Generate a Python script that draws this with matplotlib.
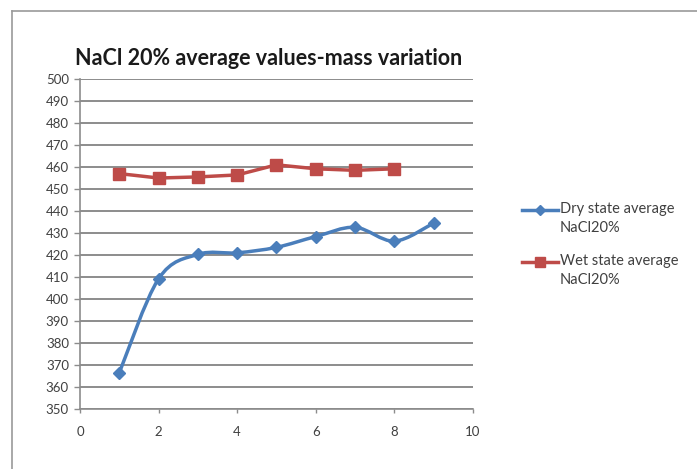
import numpy as np
import matplotlib
matplotlib.use("Agg")
import matplotlib.pyplot as plt
from matplotlib.path import Path
from matplotlib.patches import PathPatch
from matplotlib.lines import Line2D

plt.rcParams['font.family'] = ['Lato', 'DejaVu Sans']

# data
x_dry = [1, 2, 3, 4, 5, 6, 7, 8, 9]
dry = [366.5, 409.2, 420.3, 421.0, 423.5, 428.4, 432.6, 426.3, 434.5]
x_wet = [1, 2, 3, 4, 5, 6, 7, 8]
wet = [457.0, 455.0, 455.5, 456.4, 461.0, 459.2, 458.5, 459.2]
names = ["Dry state average\nNaCl20%", "Wet state average\nNaCl20%"]
title = "NaCl 20% average values-mass variation"

BLUE = "#4a7ebb"
RED = "#be4b48"


def smooth_path(xs, ys, t=1 / 6):
    # excel-like smoothed line as cubic bezier through the points
    xs, ys = np.asarray(xs, float), np.asarray(ys, float)
    pts = np.column_stack([xs, ys])
    verts = [pts[0]]
    codes = [Path.MOVETO]
    n = len(pts)
    for i in range(n - 1):
        p0 = pts[i - 1] if i > 0 else pts[i]
        p1, p2 = pts[i], pts[i + 1]
        p3 = pts[i + 2] if i + 2 < n else pts[i + 1]
        c1 = p1 + (p2 - p0) * t
        c2 = p2 - (p3 - p1) * t
        verts += [c1, c2, p2]
        codes += [Path.CURVE4] * 3
    return Path(verts, codes)


fig = plt.figure(figsize=(6.97, 4.69), dpi=100)
ax = fig.add_axes([0.1148, 0.1279, 0.5638, 0.7036])

ax.set_xlim(0, 10)
ax.set_ylim(350, 500)
ax.set_xticks(range(0, 11, 2))
ax.set_yticks(range(350, 501, 10))
ax.grid(axis='y', color='#8c8c8c', linewidth=1.4)
ax.set_axisbelow(True)
for s in ['top', 'right']:
    ax.spines[s].set_visible(False)
for s in ['left', 'bottom']:
    ax.spines[s].set_color('#8c8c8c')
    ax.spines[s].set_linewidth(1.2)
ax.tick_params(axis='both', colors='#8c8c8c', labelcolor='#404040', labelsize=9.5, length=4, width=1)
ax.tick_params(axis='x', pad=9, length=3)
ax.tick_params(axis='y', pad=4)

ax.add_patch(PathPatch(smooth_path(x_dry, dry), facecolor='none', edgecolor=BLUE, linewidth=2.5, zorder=3))
ax.plot(x_dry, dry, linestyle='none', marker='D', markersize=6, color=BLUE, zorder=4)
ax.plot(x_wet, wet, color=RED, linewidth=2.5, marker='s', markersize=8, zorder=4)

fig.text(0.385, 0.876, title, ha='center', va='center', fontsize=15.5, fontweight='bold', color='#1a1a1a')

# legend, drawn by hand so the handle sits on the first text line
W, H = 697, 469
leg = [(BLUE, 'D', 5, 210), (RED, 's', 7, 262)]
for (col, mk, ms, py), name in zip(leg, names):
    fig.add_artist(Line2D([522 / W, 558 / W], [1 - py / H] * 2, transform=fig.transFigure,
                          color=col, linewidth=2.5))
    fig.add_artist(Line2D([540 / W], [1 - py / H], transform=fig.transFigure,
                          color=col, marker=mk, markersize=ms, linestyle='none'))
    fig.text(560 / W, 1 - (py - 8) / H, name, ha='left', va='top', fontsize=10.5,
             color='#404040', linespacing=1.5)

# chart frame (only top and left visible in the crop)
fig.add_artist(Line2D([0.017, 1], [0.977, 0.977], transform=fig.transFigure, color='#9a9a9a', linewidth=1.2))
fig.add_artist(Line2D([0.017, 0.017], [0, 0.977], transform=fig.transFigure, color='#9a9a9a', linewidth=1.2))

fig.savefig("out.png", dpi=100)
